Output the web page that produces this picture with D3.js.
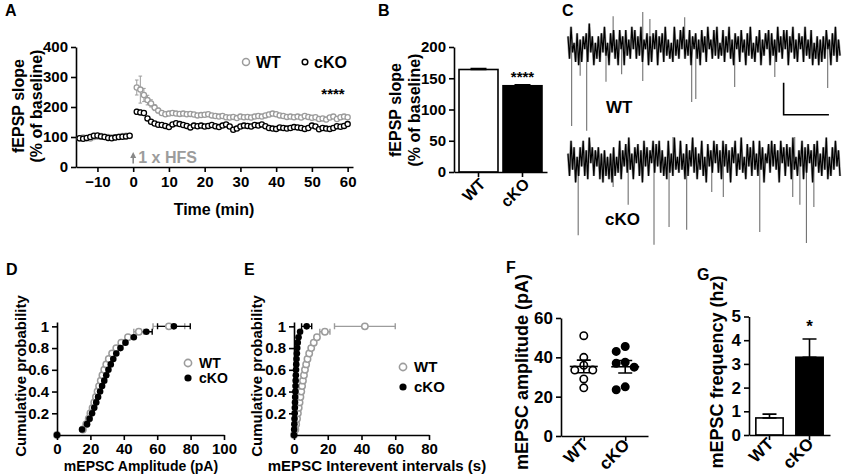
<!DOCTYPE html>
<html>
<head>
<meta charset="utf-8">
<script src="https://cdn.jsdelivr.net/npm/d3@7"></script>
<style>
  body { margin: 0; background: #fff; }
  svg text { font-family: Arial, "Liberation Sans", sans-serif; font-weight: bold; }
</style>
</head>
<body>
<script>
// ---- A: fEPSP slope (% of baseline), one point per minute ----
var ltpTimes = [-15,-14,-13,-12,-11,-10,-9,-8,-7,-6,-5,-4,-3,-2,-1,
    1,2,3,4,5,6,7,8,9,10,11,12,13,14,15,16,17,18,19,20,
    21,22,23,24,25,26,27,28,29,30,31,32,33,34,35,36,37,38,39,40,
    41,42,43,44,45,46,47,48,49,50,51,52,53,54,55,56,57,58,59,60];
var wtSlope = [95,98,96,95,100,102,103,101,100,98,99,101,103,104,103,
    265,258,240,223,212,198,188,180,176,178,
    180,178,177,178,176,177,175,172,173,174,
    176,172,170,168,170,166,165,167,163,168,
    166,167,165,168,170,168,172,175,178,176,
    172,170,167,168,166,168,165,170,167,164,
    166,160,162,158,165,168,160,166,168,166];
var wtSlopeSem = [3,3,3,3,3,3,3,3,3,3,3,3,3,3,3,
    25,45,22,16,12,10,8,7,6,6,
    6,6,6,6,6,6,6,6,6,6,
    6,6,6,6,6,6,6,6,6,6,
    6,6,6,6,6,6,6,7,7,6,
    6,6,6,6,6,6,6,6,6,6,
    6,7,6,7,6,6,6,6,6,6];
var koSlope = [96,94,97,100,104,105,102,100,97,96,98,100,101,102,104,
    184,182,180,162,151,145,141,140,137,133,
    142,146,143,140,137,132,138,136,138,135,
    137,140,136,133,138,142,135,124,128,135,
    138,137,135,140,138,142,136,130,128,127,
    132,130,128,130,133,132,130,127,130,138,
    135,126,130,128,127,130,136,134,137,143];
var koSlopeSem = [3,3,3,3,3,3,3,3,3,3,3,3,3,3,3,
    8,7,6,6,5,5,5,5,5,5,
    5,5,5,5,5,5,5,5,5,5,
    5,5,5,5,5,5,5,5,5,5,
    5,5,5,5,5,5,5,5,5,5,
    5,5,5,5,5,5,5,5,5,5,
    5,5,5,5,5,5,5,5,5,5];
var ltpXTicks = [-10, 0, 10, 20, 30, 40, 50, 60];
var ltpYTicks = [0, 100, 200, 300, 400];

// ---- B: mean fEPSP slope ----
var groups = ["WT", "cKO"];
var slopeMeans = [164, 138];
var slopeSem = [1.5, 1.5];
var slopeTicks = [0, 50, 100, 150, 200];

// ---- C: example mEPSC traces (pA), 180 samples each ----
var wtTrace = [3,-4,6,-2,1,-5,4,-6,2,-5,3,-1,4,-5,7,-2,3,-6,1,-4,
    3,-5,4,-2,6,-3,1,-6,4,-2,5,-4,2,-6,5,-1,3,-6,5,-3,
    2,-4,6,-1,5,-4,3,-3,6,-5,2,-1,4,-6,3,-5,4,-1,5,-6,
    3,-2,4,-5,6,-3,2,-4,1,-5,6,-3,2,-4,5,-1,6,-4,2,-3,
    5,-6,3,-1,4,-4,2,-6,5,-2,3,-5,6,-1,2,-4,5,-3,6,-4,
    1,-3,5,-5,3,-2,6,-4,2,-6,4,-1,3,-5,5,-2,2,-6,4,-3,
    6,-4,1,-5,3,-2,5,-6,2,-3,4,-1,5,-6,4,-3,2,-5,6,-2,
    3,-4,5,-1,5,-6,3,-2,6,-4,2,-5,4,-1,3,-5,6,-3,2,-4,
    5,-6,1,-4,3,-6,2,-5,3,-4,5,-1,2,-6,4,-3,6,-5,2,-3];
var koTrace = [2,-5,6,-3,4,-7,1,-5,4,-2,6,-5,3,-6,7,-1,4,-5,3,-2,
    4,-6,2,-7,3,-5,1,-6,2,-7,4,-5,1,-4,6,-6,3,-2,5,-4,
    7,-3,2,-6,4,-1,5,-5,3,-7,6,-2,4,-5,3,-1,6,-4,5,-2,
    6,-4,3,-5,1,-6,6,-4,2,-5,7,-3,1,-4,6,-3,2,-6,5,-5,
    3,-2,7,-4,4,-6,2,-3,6,-5,1,-7,5,-2,3,-4,6,-1,5,-4,
    3,-6,6,-2,5,-4,3,-7,4,-1,6,-5,2,-3,7,-4,1,-6,5,-2,
    4,-5,6,-3,2,-5,6,-3,4,-7,2,-1,5,-4,6,-2,5,-3,3,-7,
    6,-1,4,-5,5,-2,4,-6,7,-3,1,-5,3,-2,6,-6,4,-4,5,-1,
    3,-7,5,-2,6,-4,2,-5,4,-3,7,-6,1,-5,4,-3,6,-2,3,-5];
var wtEventAt = [2.4, 8, 12.3, 25, 35.3, 49.2, 81.4, 84.1, 109.7, 136.1, 170.9, 29.7, 49.2, 53.9, 76.8];
var wtEventAmp = [-25, -9.3, -26.5, -11.2, -8.8, -10.9, -17.5, -16.6, -12.8, -9.7, -13.1, 9.3, 10.6, 8.4, 9];
var koEventAt = [6.7, 29.7, 39.6, 56.6, 66.5, 78.1, 94.6, 102.2, 126.2, 147.9, 152.6, 156.9, 161.8, 69.1, 149.2];
var koEventAmp = [-23.5, -8.4, -14, -26.5, -20.9, -21.8, -10, -11.6, -22.5, -11.6, -14, -25.9, -14.7, 7.2, 7.2];
var scaleBarPA = 10, scaleBarSamples = 29.8;

// ---- D, E: cumulative distributions ----
var cumProb = [0,0.05,0.1,0.15,0.2,0.25,0.3,0.35,0.4,0.45,0.5,0.55,0.6,0.65,0.7,0.75,0.8,0.85,0.9,0.95,1];
var ampWT = [0,15.5,17.5,19,20,21.3,22.3,23.3,24.3,25.2,26.2,27.2,28.3,29.5,31,33,35.5,38.5,42.5,49,67];
var ampWTerr = [0,0,0,0,0,0,0,0,0,0,0,0,0,0,0,0,0,0,0,3,9.5];
var ampKO = [0,15,18,19.5,21,22.3,23.5,24.6,25.8,27,28.3,29.5,30.8,32.2,33.7,35.5,38,41,46,53.5,70];
var ampKOerr = [0,0,0,0,0,0,0,0,0,0,0,0,0,0,0,0,0,0,0,3.5,9.8];
var iviWT = [0,0.8,1.3,1.8,2.3,2.8,3.3,3.8,4.3,4.8,5.3,5.9,6.5,7.2,8,9,10.2,11.7,13.6,18.3,42];
var iviWTerr = [0,0,0,0,0,0,0,0,0,0,0,0,0,0,0,0,0,0,0,3,18];
var iviKO = [0,0.1,0.2,0.3,0.4,0.5,0.6,0.7,0.8,0.9,1,1.1,1.2,1.35,1.5,1.7,1.9,2.2,2.7,3.6,7.5];
var iviKOerr = [0,0,0,0,0,0,0,0,0,0,0,0,0,0,0,0,0,0,0,0,3];
var ampTicks = [0, 20, 40, 60, 80, 100];
var iviTicks = [0, 20, 40, 60, 80];
var probTicks = [0.2, 0.4, 0.6, 0.8, 1];

// ---- F: mEPSC amplitude per cell (pA) ----
var cellAmpWT = [51, 40, 36, 33.5, 33.5, 29, 24.5];
var cellAmpKO = [45.5, 43, 37.5, 37, 35, 25, 23.5];
var cellAmpTicks = [0, 20, 40, 60];

// ---- G: mEPSC frequency (hz) ----
var freqMeans = [0.72, 3.28];
var freqSem = [0.16, 0.77];
var freqTicks = [0, 1, 2, 3, 4, 5];

var GRAY = "#9c9c9c";

var svg = d3.select("body").append("svg")
    .attr("width", 850)
    .attr("height", 475)
    .style("background", "#fff");

function styleAxis(g, size) {
    g.attr("font-size", size).attr("font-family", null);
    g.select(".domain").attr("stroke-width", 1.6);
    g.selectAll(".tick line").attr("stroke-width", 1.6);
    g.selectAll(".tick text").attr("fill", "#000");
}

function rotateLabels(g, dx, dy) {
    g.selectAll(".tick text")
        .attr("x", 0).attr("y", 0).attr("dy", 0)
        .attr("text-anchor", "end")
        .attr("transform", "translate(" + dx + "," + dy + ") rotate(-45)");
}

function addText(x, y, txt, size, opts) {
    opts = opts || {};
    var t = svg.append("text")
        .attr("x", x).attr("y", y)
        .attr("font-size", size)
        .attr("text-anchor", opts.anchor || "start")
        .attr("fill", opts.fill || "#000")
        .text(txt);
    if (opts.rotate) {
        t.attr("dy", "0.35em").attr("transform", "rotate(" + opts.rotate + "," + x + "," + y + ")");
    }
    return t;
}

// vertical error bar with caps
function vErr(g, x, y1, y2, w, color, sw) {
    g.append("path")
        .attr("d", "M" + (x - w) + "," + y1 + "H" + (x + w) + "M" + x + "," + y1 + "V" + y2 + "M" + (x - w) + "," + y2 + "H" + (x + w))
        .attr("fill", "none").attr("stroke", color).attr("stroke-width", sw);
}
function hErr(g, x1, x2, y, h, color, sw) {
    g.append("path")
        .attr("d", "M" + x1 + "," + (y - h) + "V" + (y + h) + "M" + x1 + "," + y + "H" + x2 + "M" + x2 + "," + (y - h) + "V" + (y + h))
        .attr("fill", "none").attr("stroke", color).attr("stroke-width", sw);
}

// ================= A =================
var ax = d3.scaleLinear().domain([-16, 61.5]).range([76, 353]);
var ay = d3.scaleLinear().domain([0, 400]).range([167, 47]);

svg.append("g").attr("transform", "translate(0," + ay(0) + ")")
    .call(d3.axisBottom(ax).tickValues(ltpXTicks).tickSize(5).tickSizeOuter(0).tickPadding(4))
    .call(styleAxis, 15);
svg.append("g").attr("transform", "translate(" + ax.range()[0] + ",0)")
    .call(d3.axisLeft(ay).tickValues(ltpYTicks).tickSize(5).tickSizeOuter(0).tickPadding(3))
    .call(styleAxis, 15);

function ltpSeries(vals, sem, color) {
    var g = svg.append("g");
    vals.forEach(function (d, i) {
        vErr(g, ax(ltpTimes[i]), ay(d + sem[i]), ay(d - sem[i]), 1.8, color, 1);
    });
    g.selectAll("circle").data(vals).enter().append("circle")
        .attr("cx", function (d, i) { return ax(ltpTimes[i]); })
        .attr("cy", function (d) { return ay(d); })
        .attr("r", 2.6)
        .attr("fill", "#fff")
        .attr("stroke", color)
        .attr("stroke-width", 1.3);
}
ltpSeries(wtSlope, wtSlopeSem, GRAY);
ltpSeries(koSlope, koSlopeSem, "#000");

// HFS arrow
var hx = ax(0);
svg.append("line").attr("x1", hx).attr("x2", hx).attr("y1", ay(12)).attr("y2", ay(42))
    .attr("stroke", "#888").attr("stroke-width", 1.6);
svg.append("path")
    .attr("d", "M" + hx + "," + (ay(50)) + "L" + (hx - 3) + "," + (ay(50) + 6) + "L" + (hx + 3) + "," + (ay(50) + 6) + "Z")
    .attr("fill", "#888");
addText(ax(1.4), ay(13), "1 x HFS", 16, { fill: GRAY });

// legend A
svg.append("circle").attr("cx", 246).attr("cy", 62).attr("r", 3.5).attr("fill", "#fff").attr("stroke", GRAY).attr("stroke-width", 1.5);
addText(256, 68, "WT", 16);
svg.append("circle").attr("cx", 305).attr("cy", 62).attr("r", 2.8).attr("fill", "#fff").attr("stroke", "#000").attr("stroke-width", 1.5);
addText(314, 68, "cKO", 16);
addText(333, 99, "****", 15, { anchor: "middle" });

addText(18, 106, "fEPSP slope", 16, { anchor: "middle", rotate: -90 });
addText(36, 106, "(% of baseline)", 16, { anchor: "middle", rotate: -90 });
addText(214, 215, "Time (min)", 16, { anchor: "middle" });
addText(5, 16, "A", 16);

// ================= B =================
var bx = d3.scaleBand().domain(groups).range([454, 547]).paddingInner(0.114).paddingOuter(0.114);
var by = d3.scaleLinear().domain([0, 200]).range([172, 47]);

svg.append("g").selectAll("rect").data(slopeMeans).enter().append("rect")
    .attr("x", function (d, i) { return bx(groups[i]); })
    .attr("y", function (d) { return by(d); })
    .attr("width", bx.bandwidth())
    .attr("height", function (d) { return by(0) - by(d); })
    .attr("fill", function (d, i) { return i === 0 ? "#fff" : "#000"; })
    .attr("stroke", "#000").attr("stroke-width", 1.6);
var bErr = svg.append("g");
slopeMeans.forEach(function (d, i) {
    var cx = bx(groups[i]) + bx.bandwidth() / 2;
    vErr(bErr, cx, by(d + slopeSem[i]), by(d), 8, "#000", 1.4);
});

svg.append("g").attr("transform", "translate(0," + by(0) + ")")
    .call(d3.axisBottom(bx).tickSize(5).tickSizeOuter(0))
    .call(styleAxis, 16)
    .call(rotateLabels, 8, 13);
svg.append("g").attr("transform", "translate(" + bx.range()[0] + ",0)")
    .call(d3.axisLeft(by).tickValues(slopeTicks).tickSize(5).tickSizeOuter(0).tickPadding(3))
    .call(styleAxis, 15);
addText(bx("cKO") + bx.bandwidth() / 2, by(slopeMeans[1]) - 4, "****", 15, { anchor: "middle" });
addText(395, 110, "fEPSP slope", 16, { anchor: "middle", rotate: -90 });
addText(414, 110, "(% of baseline)", 16, { anchor: "middle", rotate: -90 });
addText(378, 16, "B", 16);

// ================= C =================
var tx = d3.scaleLinear().domain([0, wtTrace.length - 1]).range([568, 840]);

function drawTrace(vals, evAt, evAmp, mid) {
    var ty = d3.scaleLinear().domain([-10, 10]).range([mid + 32, mid - 32]);
    var line = d3.line().x(function (d, i) { return tx(i); }).y(function (d) { return ty(d); });
    var g = svg.append("g");
    g.append("path").datum(vals).attr("d", line)
        .attr("fill", "none").attr("stroke", "#a0a0a0").attr("stroke-width", 2.4);
    g.selectAll("line").data(evAt).enter().append("line")
        .attr("x1", function (d) { return tx(d); })
        .attr("x2", function (d) { return tx(d); })
        .attr("y1", ty(0))
        .attr("y2", function (d, i) { return ty(evAmp[i]); })
        .attr("stroke", "#707070").attr("stroke-width", 1.1);
    g.append("path").datum(vals).attr("d", line)
        .attr("fill", "none").attr("stroke", "#000").attr("stroke-width", 1.2);
    return ty;
}
var wtY = drawTrace(wtTrace, wtEventAt, wtEventAmp, 46);
drawTrace(koTrace, koEventAt, koEventAmp, 160);

// scale bar (unlabelled)
var sbX = tx(141.9), sbY = wtY(-21.5);
svg.append("path")
    .attr("d", "M" + sbX + "," + (sbY - (wtY(0) - wtY(scaleBarPA))) + "V" + sbY + "H" + (sbX + tx(scaleBarSamples) - tx(0)))
    .attr("fill", "none").attr("stroke", "#000").attr("stroke-width", 1.6);

addText(606, 113, "WT", 17);
addText(605, 225, "cKO", 17);
addText(562, 16, "C", 16);

// ================= D & E =================
function cumPanel(x, xTicks, wt, wtErr, ko, koErr, legX, legY, legGap, legSize, xTitle, titleX, titleSize, yTitleX, letter, letterX) {
    var py = d3.scaleLinear().domain([0, 1.04]).range([435, 322]);
    var g = svg.append("g");
    svg.append("g").attr("transform", "translate(0," + py(0) + ")")
        .call(d3.axisBottom(x).tickValues(xTicks).tickSize(5).tickSizeOuter(0).tickPadding(3))
        .call(styleAxis, 15);
    svg.append("g").attr("transform", "translate(" + x.range()[0] + ",0)")
        .call(d3.axisLeft(py).tickValues(probTicks).tickSize(5).tickSizeOuter(0).tickPadding(3)
            .tickFormat(function (d) { return d === 1 ? "1" : d3.format(".1f")(d); }))
        .call(styleAxis, 15);

    wt.forEach(function (d, i) {
        if (wtErr[i] > 0) hErr(g, x(d - wtErr[i]), x(d + wtErr[i]), py(cumProb[i]), 3, GRAY, 1.4);
    });
    ko.forEach(function (d, i) {
        if (koErr[i] > 0) hErr(g, x(d - koErr[i]), x(d + koErr[i]), py(cumProb[i]), 3, "#000", 1.4);
    });
    g.selectAll("circle.wt").data(wt).enter().append("circle")
        .attr("cx", function (d) { return x(d); })
        .attr("cy", function (d, i) { return py(cumProb[i]); })
        .attr("r", 3.2).attr("fill", "#fff").attr("stroke", GRAY).attr("stroke-width", 1.5);
    g.selectAll("circle.ko").data(ko).enter().append("circle")
        .attr("cx", function (d) { return x(d); })
        .attr("cy", function (d, i) { return py(cumProb[i]); })
        .attr("r", 3.3).attr("fill", "#000");

    svg.append("circle").attr("cx", legX).attr("cy", legY).attr("r", 3.6)
        .attr("fill", "#fff").attr("stroke", GRAY).attr("stroke-width", 1.6);
    addText(legX + 11, legY + 5, "WT", legSize);
    svg.append("circle").attr("cx", legX).attr("cy", legY + legGap).attr("r", 3.6).attr("fill", "#000");
    addText(legX + 11, legY + legGap + 5, "cKO", legSize);

    addText(titleX, 471, xTitle, titleSize, { anchor: "middle" });
    addText(yTitleX, 376, "Cumulative probability", 15, { anchor: "middle", rotate: -90 });
    addText(letterX, 275, letter, 16);
}

var dx = d3.scaleLinear().domain([0, 100]).range([57, 224]);
cumPanel(dx, ampTicks, ampWT, ampWTerr, ampKO, ampKOerr, 188, 363, 15, 14,
    "mEPSC Amplitude (pA)", 141, 14, 21, "D", 6);
var ex = d3.scaleLinear().domain([0, 80]).range([294, 429]);
cumPanel(ex, iviTicks, iviWT, iviWTerr, iviKO, iviKOerr, 403, 367, 20, 15,
    "mEPSC Interevent intervals (s)", 377, 15, 257, "E", 244);

// ================= F =================
var fy = d3.scaleLinear().domain([0, 60]).range([436, 318]);
var fx = d3.scalePoint().domain(groups).range([561, 648]).padding(0.55);

svg.append("g").attr("transform", "translate(0," + fy(0) + ")")
    .call(d3.axisBottom(fx).tickSize(5).tickSizeOuter(0))
    .call(styleAxis, 17)
    .call(rotateLabels, 5, 10);
svg.append("g").attr("transform", "translate(" + fx.range()[0] + ",0)")
    .call(d3.axisLeft(fy).tickValues(cellAmpTicks).tickSize(5).tickSizeOuter(0).tickPadding(3)
        .tickFormat(d3.format("d")))
    .call(styleAxis, 17);

// simple swarm: centre first, then alternate sides
function swarm(vals, y, step, minDist) {
    var placed = [];
    vals.forEach(function (v) {
        var py = y(v), off = 0;
        var cands = [0, -step, step, -2 * step, 2 * step];
        for (var i = 0; i < cands.length; i++) {
            off = cands[i];
            var hit = placed.some(function (p) { return Math.hypot(p.dx - off, p.py - py) < minDist; });
            if (!hit) break;
        }
        placed.push({ v: v, dx: off, py: py });
    });
    return placed;
}

[cellAmpWT, cellAmpKO].forEach(function (vals, k) {
    var cx = fx(groups[k]);
    var g = svg.append("g");
    var m = d3.mean(vals), s = d3.deviation(vals) / Math.sqrt(vals.length);
    g.selectAll("circle").data(swarm(vals, fy, 9, 7.5)).enter().append("circle")
        .attr("cx", function (d) { return cx + d.dx; })
        .attr("cy", function (d) { return d.py; })
        .attr("r", 3.7)
        .attr("fill", k === 0 ? "#fff" : "#000")
        .attr("stroke", "#000").attr("stroke-width", 1.6);
    g.append("line").attr("x1", cx - 14).attr("x2", cx + 14).attr("y1", fy(m)).attr("y2", fy(m))
        .attr("stroke", "#000").attr("stroke-width", 1.6);
    vErr(g, cx, fy(m + s), fy(m - s), 7, "#000", 1.6);
});
addText(522, 372, "mEPSC amplitude (pA)", 18, { anchor: "middle", rotate: -90 });
addText(506, 273, "F", 16);

// ================= G =================
var gy = d3.scaleLinear().domain([0, 5]).range([435, 316.5]);
var gx = d3.scaleBand().domain(groups).range([749, 830]).paddingInner(0.3175).paddingOuter(0.171);

svg.append("g").selectAll("rect").data(freqMeans).enter().append("rect")
    .attr("x", function (d, i) { return gx(groups[i]); })
    .attr("y", function (d) { return gy(d); })
    .attr("width", gx.bandwidth())
    .attr("height", function (d) { return gy(0) - gy(d); })
    .attr("fill", function (d, i) { return i === 0 ? "#fff" : "#000"; })
    .attr("stroke", "#000").attr("stroke-width", 1.6);
var gErr = svg.append("g");
freqMeans.forEach(function (d, i) {
    var cx = gx(groups[i]) + gx.bandwidth() / 2;
    vErr(gErr, cx, gy(d + freqSem[i]), gy(d), 7, "#000", 1.6);
});
svg.append("g").attr("transform", "translate(0," + gy(0) + ")")
    .call(d3.axisBottom(gx).tickSize(5).tickSizeOuter(0))
    .call(styleAxis, 17)
    .call(rotateLabels, 5, 10);
svg.append("g").attr("transform", "translate(" + gx.range()[0] + ",0)")
    .call(d3.axisLeft(gy).tickValues(freqTicks).tickSize(5).tickSizeOuter(0).tickPadding(3)
        .tickFormat(d3.format("d")))
    .call(styleAxis, 17);
addText(gx("cKO") + gx.bandwidth() / 2, gy(freqMeans[1] + freqSem[1]) - 7, "*", 17, { anchor: "middle" });
addText(717, 372, "mEPSC frequency (hz)", 18, { anchor: "middle", rotate: -90 });
addText(697, 280, "G", 16);
</script>
</body>
</html>
